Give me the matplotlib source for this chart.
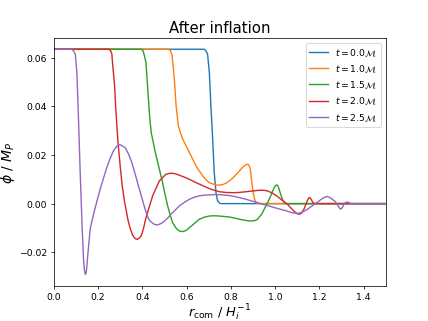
import matplotlib
matplotlib.use("Agg")
import matplotlib.pyplot as plt
import numpy as np

phi0 = 0.0635

# t = 0.0 M
r_t00 = [0.0, 0.68, 0.688, 0.695, 0.703, 0.71, 0.718, 0.725, 0.733, 0.74, 0.748, 0.755, 0.8, 1.5]
phi_t00 = [phi0, phi0, 0.0628, 0.0615, 0.0539, 0.0402, 0.0265, 0.0128, 0.0045, 0.0012, 0.0003, 0.0, 0.0, 0.0]

# t = 1.0 M
r_t10 = [0.0, 0.519, 0.528, 0.535, 0.545, 0.553, 0.563, 0.573, 0.583, 0.598, 0.613, 0.628, 0.643,
         0.658, 0.673, 0.688, 0.703, 0.718, 0.733, 0.748, 0.763, 0.778, 0.793, 0.808, 0.823, 0.838,
         0.85, 0.86, 0.868, 0.875, 0.881, 0.886, 0.89, 0.893, 0.897, 0.901, 0.906, 0.91, 0.915, 0.92, 1.5]
phi_t10 = [phi0, phi0, 0.0628, 0.0608, 0.0512, 0.0402, 0.032, 0.029, 0.0265, 0.0238, 0.021, 0.0183, 0.0155,
           0.0134, 0.0114, 0.0098, 0.0086, 0.0081, 0.0077, 0.0076, 0.0078, 0.0084, 0.0093, 0.0105, 0.0119, 0.0134,
           0.0146, 0.0155, 0.016, 0.0162, 0.0159, 0.0148, 0.0128, 0.01, 0.0072, 0.0045, 0.0022, 0.0011, 0.0004, 0.0, 0.0]

# t = 1.5 M
r_t15 = [0.0, 0.396, 0.404, 0.41, 0.417, 0.425, 0.431, 0.436, 0.441, 0.447, 0.458, 0.47, 0.481, 0.492,
         0.503, 0.515, 0.526, 0.537, 0.549, 0.56, 0.571, 0.582, 0.597, 0.613, 0.635, 0.658, 0.68, 0.703,
         0.725, 0.748, 0.77, 0.793, 0.815, 0.838, 0.86, 0.88, 0.898, 0.91, 0.92, 0.94, 0.958, 0.97, 0.98,
         0.988, 0.996, 1.002, 1.008, 1.013, 1.018, 1.025, 1.033, 1.04, 1.048, 1.06, 1.5]
phi_t15 = [phi0, phi0, 0.0628, 0.0608, 0.058, 0.047, 0.039, 0.0333, 0.029, 0.0265, 0.0215, 0.0169, 0.0128, 0.0086,
           0.0038, -0.001, -0.0046, -0.0078, -0.0096, -0.0108, -0.0114, -0.0115, -0.0111, -0.0099, -0.0082, -0.0064,
           -0.0056, -0.0051, -0.005, -0.0051, -0.0053, -0.0055, -0.0059, -0.0064, -0.0068, -0.0071, -0.0071, -0.0069,
           -0.0065, -0.0042, -0.001, 0.0012, 0.0032, 0.005, 0.0066, 0.0074, 0.0077, 0.0072, 0.0059, 0.0038, 0.0018,
           0.0006, 0.0, 0.0, 0.0]

# t = 2.0 M
r_t20 = [0.0, 0.25, 0.258, 0.263, 0.267, 0.27, 0.275, 0.28, 0.29, 0.3, 0.31, 0.32, 0.335,
         0.345, 0.357, 0.368, 0.378, 0.387, 0.395, 0.405, 0.417, 0.432, 0.447, 0.462, 0.477, 0.492, 0.507,
         0.522, 0.537, 0.552, 0.567, 0.59, 0.613, 0.635, 0.658, 0.68, 0.703, 0.725, 0.748, 0.778, 0.808,
         0.838, 0.868, 0.898, 0.928, 0.95, 0.966, 0.981, 0.996, 1.011, 1.026, 1.041, 1.056, 1.07, 1.085,
         1.1, 1.11, 1.12, 1.13, 1.138, 1.145, 1.153, 1.16, 1.166, 1.171, 1.178, 1.5]
phi_t20 = [phi0, phi0, 0.0628, 0.0615, 0.0567, 0.0539, 0.049, 0.040, 0.026, 0.016, 0.007, 0.001, -0.0064,
           -0.0100, -0.0130, -0.0144, -0.0147, -0.0141, -0.0133, -0.0105, -0.0058, -0.0013, 0.0032,
           0.0062, 0.0093, 0.0107, 0.0121, 0.0124, 0.0125, 0.0122, 0.0117, 0.0109, 0.01, 0.009, 0.008, 0.0071,
           0.0062, 0.0055, 0.0049, 0.0046, 0.0045, 0.0046, 0.0049, 0.0052, 0.0055, 0.0055, 0.0052, 0.0046, 0.0038,
           0.0029, 0.0018, 0.0007, -0.0003, -0.0017, -0.0031, -0.0042, -0.0044, -0.0038, -0.0023, -0.0005, 0.0012,
           0.0025, 0.0022, 0.0012, 0.0004, 0.0, 0.0]

# t = 2.5 M
r_t25 = [0.0, 0.083, 0.09, 0.098, 0.105, 0.113, 0.12, 0.128, 0.135, 0.139, 0.143, 0.147, 0.15, 0.154,
         0.158, 0.165, 0.173, 0.18, 0.188, 0.2, 0.21, 0.225, 0.24, 0.255, 0.27, 0.285, 0.297, 0.31, 0.323,
         0.338, 0.353, 0.368, 0.383, 0.398, 0.413, 0.425, 0.435, 0.45, 0.465, 0.48, 0.495, 0.512, 0.53,
         0.548, 0.567, 0.59, 0.613, 0.635, 0.658, 0.68, 0.703, 0.725, 0.748, 0.778, 0.808, 0.838, 0.868,
         0.898, 0.928, 0.958, 0.988, 1.018, 1.048, 1.078, 1.108, 1.138, 1.168, 1.198, 1.215, 1.228, 1.236,
         1.245, 1.258, 1.272, 1.285, 1.295, 1.303, 1.31, 1.317, 1.323, 1.33, 1.337, 1.345, 1.5]
phi_t25 = [phi0, phi0, 0.0628, 0.0615, 0.0539, 0.0333, 0.0128, -0.0078, -0.0229, -0.0272, -0.0291, -0.0285,
           -0.0257, -0.0215, -0.0174, -0.0106, -0.0071, -0.0045, -0.0016, 0.0025, 0.0059, 0.0104, 0.0148,
           0.0185, 0.0217, 0.0236, 0.0243, 0.0238, 0.023, 0.0205, 0.0169, 0.0122, 0.0073, 0.0025, -0.0023,
           -0.0055, -0.0071, -0.0083, -0.0088, -0.0084, -0.0076, -0.0062, -0.0044, -0.0027, -0.001, 0.0005,
           0.0018, 0.0026, 0.0032, 0.0035, 0.0036, 0.0037, 0.0037, 0.0035, 0.0031, 0.0025, 0.0018, 0.001,
           0.0002, -0.0006, -0.0014, -0.0022, -0.0029, -0.0038, -0.004, -0.0028, -0.0009, 0.0011, 0.0022,
           0.0028, 0.0029, 0.0026, 0.0018, 0.0008, -0.0012, -0.0023, -0.0017, -0.0004, 0.0004, 0.0007, 0.0005,
           0.0002, 0.0, 0.0]

fig, ax = plt.subplots(figsize=(6.4, 4.8), dpi=67)
ax.plot(r_t00, phi_t00, label=r'$t=0.0\mathcal{M}$')
ax.plot(r_t10, phi_t10, label=r'$t=1.0\mathcal{M}$')
ax.plot(r_t15, phi_t15, label=r'$t=1.5\mathcal{M}$')
ax.plot(r_t20, phi_t20, label=r'$t=2.0\mathcal{M}$')
ax.plot(r_t25, phi_t25, label=r'$t=2.5\mathcal{M}$')

ax.set_xlim(0, 1.5)
ax.set_title('After inflation', fontsize=16)
ax.set_xlabel(r'$r_{\rm com}$ / $H_i^{-1}$', fontsize=14, labelpad=1)
ax.set_ylabel(r'$\phi$ / $M_P$', fontsize=15, labelpad=2)
ax.legend(loc='upper right')

fig.savefig('out.png', dpi=67)
